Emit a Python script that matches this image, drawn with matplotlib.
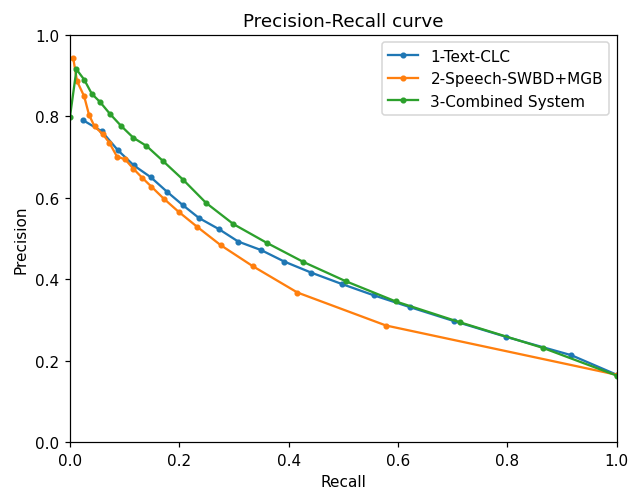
import matplotlib
matplotlib.use('Agg')
import matplotlib.pyplot as plt

# 1-Text-CLC
recall_text = [0.023, 0.058, 0.088, 0.117, 0.148, 0.178, 0.207, 0.236, 0.272, 0.308,
               0.350, 0.392, 0.441, 0.497, 0.556, 0.622, 0.702, 0.798, 0.917, 1.0]
prec_text = [0.791, 0.763, 0.716, 0.679, 0.650, 0.614, 0.581, 0.550, 0.523, 0.492,
             0.471, 0.443, 0.416, 0.388, 0.360, 0.331, 0.297, 0.258, 0.213, 0.165]

# 2-Speech-SWBD+MGB
recall_speech = [0.006, 0.013, 0.026, 0.035, 0.045, 0.060, 0.072, 0.086, 0.101, 0.116,
                 0.132, 0.149, 0.172, 0.199, 0.233, 0.276, 0.334, 0.416, 0.578, 1.0]
prec_speech = [0.943, 0.886, 0.849, 0.803, 0.775, 0.756, 0.735, 0.701, 0.694, 0.671,
               0.649, 0.627, 0.597, 0.565, 0.528, 0.483, 0.432, 0.367, 0.286, 0.165]

# 3-Combined System
recall_comb = [0.0, 0.012, 0.026, 0.040, 0.055, 0.073, 0.093, 0.116, 0.140, 0.171,
               0.207, 0.249, 0.299, 0.360, 0.427, 0.504, 0.596, 0.713, 0.865, 1.0]
prec_comb = [0.798, 0.915, 0.890, 0.855, 0.835, 0.806, 0.777, 0.747, 0.727, 0.689,
             0.644, 0.587, 0.535, 0.489, 0.442, 0.395, 0.345, 0.294, 0.231, 0.163]

dpi = 110
fig = plt.figure(figsize=(630 / dpi, 490 / dpi), dpi=dpi)
ax = fig.add_axes([0.111, 0.096, 0.868, 0.831])

ax.plot(recall_text, prec_text, marker='.', label='1-Text-CLC')
ax.plot(recall_speech, prec_speech, marker='.', label='2-Speech-SWBD+MGB')
ax.plot(recall_comb, prec_comb, marker='.', label='3-Combined System')

ax.set_xlim(0, 1)
ax.set_ylim(0, 1)
ax.set_xlabel('Recall')
ax.set_ylabel('Precision')
ax.set_title('Precision-Recall curve')
ax.legend(loc='upper right')

fig.savefig('out.png', dpi=dpi)
